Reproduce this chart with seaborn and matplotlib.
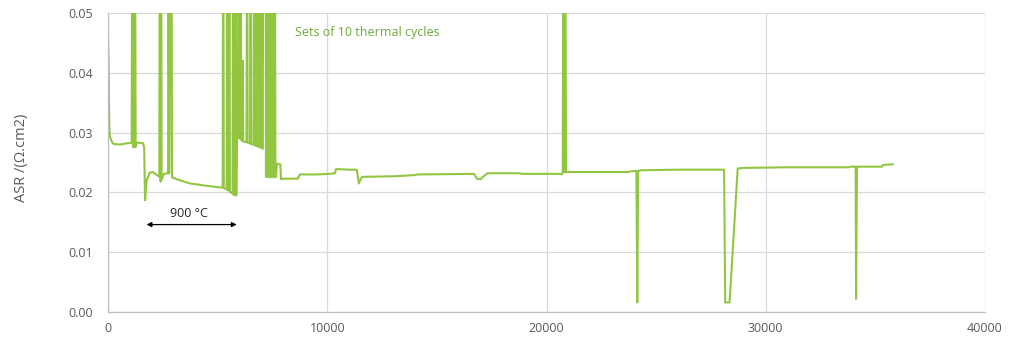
import matplotlib
matplotlib.use("Agg")
import matplotlib.pyplot as plt
import seaborn as sns
import pandas as pd

# Time (h) and ASR (Ohm.cm2)
hours = [
    0, 15, 30, 45, 65, 100, 170, 250, 550, 850, 1080,
    1110, 1140, 1170, 1200, 1230, 1260, 1300, 1450, 1600, 1650, 1690, 1760,
    1910, 2050, 2240, 2340, 2365, 2400, 2420, 2445, 2550, 2740, 2760, 2790,
    2890, 2920, 3300, 3740, 4500, 5200,
    5230, 5255, 5280, 5410, 5435, 5460, 5510, 5535, 5560, 5680, 5705, 5730,
    5800, 5825, 5850, 5880, 5930, 5960, 5985, 6050, 6075, 6130, 6150, 6170,
    6320, 6345, 6370, 6480, 6505, 6530, 6640, 6665, 6690, 6720, 6745, 6790,
    6815, 6860, 6885, 6930, 6955, 7000, 7025, 7060, 7080, 7185, 7205, 7260,
    7285, 7350, 7375, 7430, 7455, 7530, 7555, 7610, 7635, 7670, 7700, 7860,
    7890,
    8000, 8660, 8750, 9500, 10100, 10350, 10400, 11000, 11350, 11440, 11520,
    11600, 13100, 14000, 14100, 16700, 16820, 17000, 17100, 17300, 18800,
    18850, 20100, 20650, 20690, 20740, 20780, 20820, 20850, 20890, 21500,
    23750, 23800, 24100, 24140, 24180, 24300, 26000, 28100, 28150, 28350,
    28720, 29000, 31000, 33800, 33850, 34100, 34120, 34160, 35300, 35350, 35800,
]
asr = [
    0.0462, 0.0440, 0.0403, 0.0348, 0.0303, 0.0292, 0.0285, 0.0281, 0.0280, 0.0282, 0.0283,
    0.08, 0.0276, 0.08, 0.0275, 0.08, 0.0276, 0.0283, 0.0283, 0.0282, 0.0275, 0.0187, 0.0220,
    0.0233, 0.0234, 0.0229, 0.0226, 0.08, 0.0218, 0.08, 0.0222, 0.0231, 0.0232, 0.08, 0.0232,
    0.08, 0.0225, 0.0220, 0.0215, 0.0211, 0.0208,
    0.0209, 0.08, 0.0207, 0.0205, 0.08, 0.0204, 0.0203, 0.08, 0.0201, 0.0198, 0.08, 0.0196,
    0.0195, 0.08, 0.0195, 0.0303, 0.0298, 0.08, 0.0290, 0.08, 0.0288, 0.0286, 0.0420, 0.0285,
    0.0284, 0.08, 0.0283, 0.0282, 0.08, 0.0281, 0.0280, 0.08, 0.0279, 0.08, 0.0278, 0.08,
    0.0277, 0.08, 0.0276, 0.08, 0.0275, 0.08, 0.0274, 0.0273, 0.08, 0.08, 0.0226, 0.08,
    0.0226, 0.08, 0.0225, 0.08, 0.0226, 0.08, 0.0225, 0.08, 0.0226, 0.0226, 0.0248, 0.0247,
    0.0222,
    0.0223, 0.0223, 0.0230, 0.0230, 0.0231, 0.0232, 0.0239, 0.0238, 0.0238, 0.0215, 0.0222,
    0.0226, 0.0227, 0.0229, 0.0230, 0.0231, 0.0223, 0.0222, 0.0226, 0.0232, 0.0232,
    0.0231, 0.0231, 0.0231, 0.0230, 0.0232, 0.08, 0.0234, 0.08, 0.0234, 0.0234,
    0.0234, 0.0235, 0.0236, 0.0016, 0.0236, 0.0237, 0.0238, 0.0238, 0.0016, 0.0016,
    0.0240, 0.0241, 0.0242, 0.0242, 0.0243, 0.0243, 0.0022, 0.0243, 0.0243, 0.0246, 0.0247,
]

x_ticks = [0, 10000, 20000, 30000, 40000]
y_ticks = [0.00, 0.01, 0.02, 0.03, 0.04, 0.05]
y_label = "ASR /(Ω.cm2)"
note_cycles = "Sets of 10 thermal cycles"
note_temp = "900 °C"

sns.set_theme(style="white")
plt.rcParams['font.family'] = ['Open Sans', 'DejaVu Sans']

W, H = 1013, 342
fig = plt.figure(figsize=(W / 100, H / 100), dpi=100)
L, R, T, B = 108, 985, 13, 312
ax = fig.add_axes([L / W, 1 - B / H, (R - L) / W, (B - T) / H])

df = pd.DataFrame({"h": hours, "asr": asr})
sns.lineplot(data=df, x="h", y="asr", ax=ax, estimator=None, sort=False,
             color="#92c640", linewidth=1.5)

ax.set_xlim(0, 40000)
ax.set_ylim(0, 0.05)
ax.set_xticks(x_ticks)
ax.set_xticklabels([str(v) for v in x_ticks])
ax.set_yticks(y_ticks)
ax.set_yticklabels([f"{v:.2f}" for v in y_ticks])
ax.grid(True, color="#d9d9d9", linewidth=0.9)
ax.set_axisbelow(True)
for s in ["top", "right"]:
    ax.spines[s].set_visible(False)
for s in ["left", "bottom"]:
    ax.spines[s].set_color("#bfbfbf")
    ax.spines[s].set_linewidth(0.9)
ax.tick_params(axis="both", length=0, labelsize=9, labelcolor="#595959")
ax.tick_params(axis="y", pad=11)
ax.tick_params(axis="x", pad=7)
ax.set_xlabel("")
ax.set_ylabel(y_label, fontsize=10.5, color="#595959")
ax.yaxis.set_label_coords(-0.090, 0.515)

ax.text(8520, 0.0468, note_cycles, fontsize=9, color="#6fa83a", ha="left", va="center")
ax.annotate("", xy=(5870, 0.01462), xytext=(1760, 0.01462),
            arrowprops=dict(arrowstyle="<|-|>", color="black", lw=0.9,
                            mutation_scale=7, shrinkA=0, shrinkB=0))
ax.text(3690, 0.0165, note_temp, fontsize=9, color="#262626", ha="center", va="center")

fig.savefig("out.png", dpi=100)
